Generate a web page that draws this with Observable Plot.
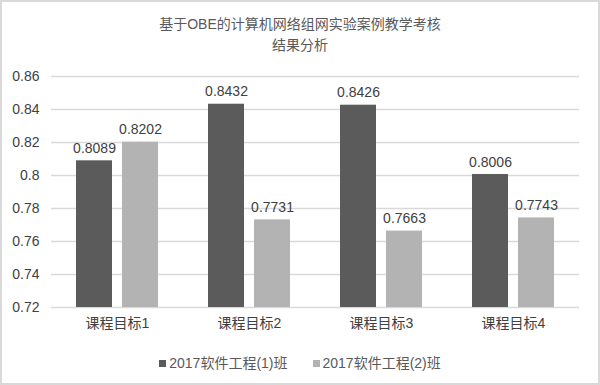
<!DOCTYPE html>
<html>
<head>
<meta charset="utf-8">
<script src="https://cdn.jsdelivr.net/npm/d3@7"></script>
<script src="https://cdn.jsdelivr.net/npm/@observablehq/plot@0.6"></script>
<style>
  html, body { margin: 0; padding: 0; background: #fff; }
  #wrap { position: relative; width: 600px; height: 385px; overflow: hidden; background: #fff;
    font-family: "Liberation Sans", "Noto Sans CJK SC", sans-serif; color: #595959; }
  #wrap svg { position: absolute; left: 0; top: 0; }
  #border { position: absolute; left: 0; top: 0; width: 600px; height: 385px; box-sizing: border-box; border: 2px solid #d9d9d9; pointer-events: none; }
  #title { position: absolute; left: 0; top: 14px; width: 600px; text-align: center; font-size: 14px; line-height: 21px; }
  #legend { position: absolute; left: 0; top: 353px; width: 600px; display: flex; justify-content: center; gap: 25px; font-size: 14px; line-height: 20px; }
  .item { display: flex; align-items: center; }
  .sw { width: 7px; height: 7px; margin-right: 3px; display: inline-block; }
</style>
</head>
<body>
<div id="wrap">
  <div id="title"></div>
  <div id="legend"></div>
  <div id="border"></div>
</div>
<script>
const titleLines = ["基于OBE的计算机网络组网实验案例教学考核", "结果分析"];
const categories = ["课程目标1", "课程目标2", "课程目标3", "课程目标4"];
const series = ["2017软件工程(1)班", "2017软件工程(2)班"];
const class1 = [0.8089, 0.8432, 0.8426, 0.8006];
const class2 = [0.8202, 0.7731, 0.7663, 0.7743];
const yTicks = [0.72, 0.74, 0.76, 0.78, 0.8, 0.82, 0.84, 0.86];
const colors = ["#5b5b5b", "#b3b3b3"];

const data = categories.flatMap((c, i) => [
  {cat: c, s: series[0], v: class1[i]},
  {cat: c, s: series[1], v: class2[i]}
]);

const fontFamily = '"Liberation Sans", "Noto Sans CJK SC", sans-serif';

const chart = Plot.plot({
  width: 600,
  height: 385,
  marginTop: 76,
  marginBottom: 78,
  marginLeft: 51,
  marginRight: 21,
  fx: {domain: categories, padding: 0, label: null, axis: null},
  x: {domain: series, paddingInner: 0.217, paddingOuter: 0.543, axis: null},
  y: {domain: [0.72, 0.86], axis: null},
  color: {domain: series, range: colors},
  style: {fontFamily, fontSize: "14px", color: "#595959", background: "transparent"},
  marks: [
    Plot.gridY(yTicks, {stroke: "#d9d9d9", strokeOpacity: 1, strokeWidth: 1.3}),
    Plot.barY(data, {fx: "cat", x: "s", y1: 0.72, y2: "v", fill: "s"}),
    Plot.text(data, {fx: "cat", x: "s", y: "v", text: d => d3.format(".4f")(d.v),
      lineAnchor: "bottom", dy: -8, fill: "#404040", fontSize: 14}),
    Plot.axisY(yTicks, {tickSize: 0, tickPadding: 12, tickFormat: d => String(d), fontSize: 14, fill: "#404040", label: null}),
    Plot.axisFx({anchor: "bottom", tickSize: 0, tickPadding: 11, fontSize: 14, fill: "#404040", label: null})
  ]
});

const wrap = document.getElementById("wrap");
wrap.insertBefore(chart, wrap.firstChild);

const title = document.getElementById("title");
titleLines.forEach(t => { const d = document.createElement("div"); d.textContent = t; title.appendChild(d); });

const legend = document.getElementById("legend");
series.forEach((s, i) => {
  const it = document.createElement("div");
  it.className = "item";
  const sw = document.createElement("span");
  sw.className = "sw";
  sw.style.background = colors[i];
  const tx = document.createElement("span");
  tx.textContent = s;
  it.appendChild(sw); it.appendChild(tx);
  legend.appendChild(it);
});
</script>
</body>
</html>
